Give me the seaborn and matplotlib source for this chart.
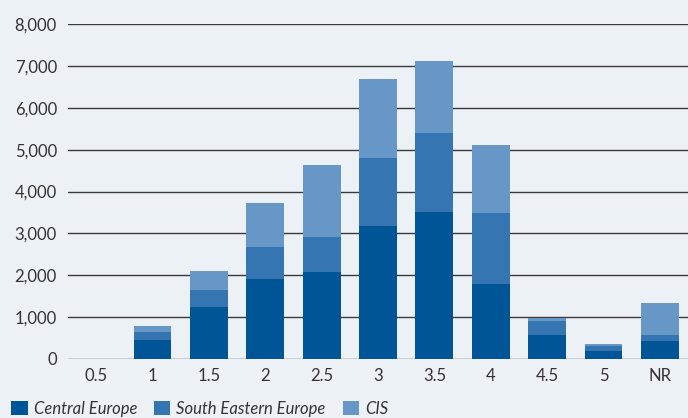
import numpy as np
import pandas as pd
import matplotlib
matplotlib.use("Agg")
import matplotlib.pyplot as plt
from matplotlib.patches import Patch
from matplotlib.ticker import FuncFormatter
import seaborn as sns

categories = ["0.5", "1", "1.5", "2", "2.5", "3", "3.5", "4", "4.5", "5", "NR"]
central_europe = [0, 450, 1240, 1910, 2070, 3175, 3510, 1790, 570, 185, 425]
south_eastern_europe = [0, 190, 400, 760, 840, 1625, 1890, 1700, 330, 120, 145]
cis = [0, 140, 455, 1055, 1725, 1890, 1720, 1620, 75, 50, 765]
series_names = ["Central Europe", "South Eastern Europe", "CIS"]
colors = ["#005596", "#3575b1", "#6797c7"]
bg = "#ecf1f6"

df = pd.DataFrame({
    "category": categories,
    "ce": central_europe,
    "see": south_eastern_europe,
    "cis": cis,
})
df["c1"] = df["ce"]
df["c2"] = df["ce"] + df["see"]
df["c3"] = df["c2"] + df["cis"]

sns.set_theme(style="white")
plt.rcParams["font.family"] = ["Lato", "DejaVu Sans"]

fig = plt.figure(figsize=(6.88, 4.18), dpi=100, facecolor=bg)
ax = fig.add_axes([68 / 688, 1 - 358.7 / 418, 1 - 68 / 688, (358.7 - 24.3) / 418])
ax.set_facecolor(bg)

for col, c in zip(["c3", "c2", "c1"], colors[::-1]):
    sns.barplot(data=df, x="category", y=col, order=categories, color=c,
                width=0.67, saturation=1, ax=ax, zorder=3, linewidth=0)

ax.set_ylim(0, 8000)
ax.set_xlim(-0.5, 10.5)
ax.set_yticks(np.arange(0, 8001, 1000))
ax.yaxis.set_major_formatter(FuncFormatter(lambda v, p: f"{int(v):,}"))
ax.grid(axis="y", color="#3a3a3a", linewidth=1.0, zorder=1)
ax.grid(axis="x", visible=False)
for s in ax.spines.values():
    s.set_visible(False)
ax.set_xlabel("")
ax.set_ylabel("")
ax.tick_params(axis="both", length=0, labelsize=12, colors="#333333")
ax.tick_params(axis="y", pad=8)
ax.tick_params(axis="x", pad=7)

handles = [Patch(facecolor=c, edgecolor="none", label=n) for c, n in zip(colors, series_names)]
leg = fig.legend(handles=handles, loc="lower left", bbox_to_anchor=(11 / 688, 0.003),
                 ncol=3, frameon=False, handlelength=1.0, handleheight=1.0,
                 handletextpad=0.36, columnspacing=1.0, borderpad=0, borderaxespad=0,
                 prop={"size": 12, "style": "italic"})
for t in leg.get_texts():
    t.set_color("#333333")

fig.savefig("out.png", dpi=100, facecolor=bg)
